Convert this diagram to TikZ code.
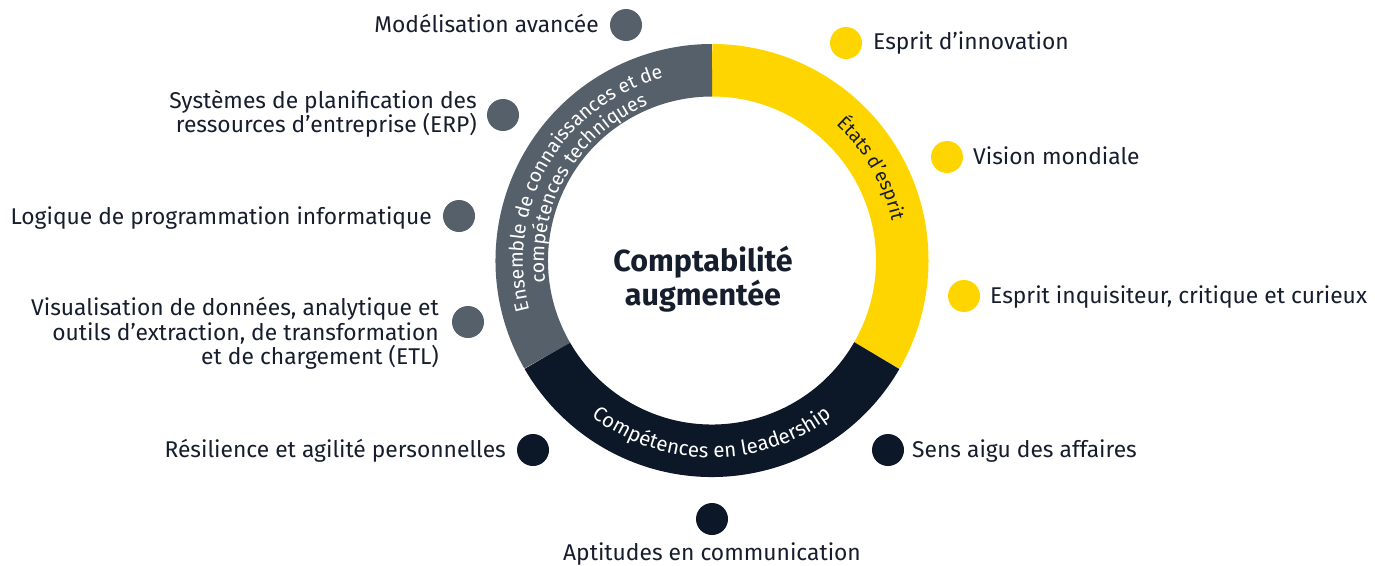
\documentclass[tikz,border=0pt]{standalone}
\usepackage{fontspec}
\setmainfont{Fira Sans}
\usetikzlibrary{decorations.text}
\definecolor{eyyellow}{HTML}{FFD500}
\definecolor{eygray}{HTML}{56606B}
\definecolor{eynavy}{HTML}{0C1727}
\definecolor{txt}{HTML}{161D2C}
\begin{document}
\begin{tikzpicture}[x=1pt,y=1pt,
  dot/.style={circle,fill=#1,minimum size=32pt,inner sep=0pt},
  lbl/.style={inner sep=0pt,text=txt,font=\fontsize{22.8}{24.5}\selectfont},
  seg/.style={line width=52.5pt,draw=#1}]
\useasboundingbox (0,0) rectangle (1375,-565);
\coordinate (C) at (712,-260.5);
% ring
\draw[seg=eyyellow] ([shift={(C)}]90:190.25) arc[start angle=90,end angle=-30,radius=190.25];
\draw[seg=eynavy] ([shift={(C)}]-30:190.25) arc[start angle=-30,end angle=-150,radius=190.25];
\draw[seg=eygray] ([shift={(C)}]210:190.25) arc[start angle=210,end angle=90,radius=190.25];
% ring texts
\path[decorate,decoration={text along path,text align=center,text color=white,
  text={|\fontsize{19.5}{19.5}\selectfont|Ensemble de connaissances et de}}]
  ([shift={(C)}]210:189) arc[start angle=210,end angle=90,radius=189];
\path[decorate,decoration={text along path,text align=center,text color=white,
  text={|\fontsize{19.5}{19.5}\selectfont|compétences techniques}}]
  ([shift={(C)}]210:168) arc[start angle=210,end angle=90,radius=168];
\path[decorate,decoration={text along path,text align=center,text color=txt,
  text={|\fontsize{19}{19}\selectfont|États d'esprit}}]
  ([shift={(C)}]90:184) arc[start angle=90,end angle=-30,radius=184];
\path[decorate,decoration={text along path,text align=center,text color=white,
  text={|\fontsize{20.5}{20.5}\selectfont|Compétences en leadership}}]
  ([shift={(C)}]210:197) arc[start angle=210,end angle=330,radius=197];
% centre
\node[inner sep=0pt,text=txt,font=\fontsize{30.5}{34}\selectfont\bfseries,align=center] (centre) at (703,-279) {Comptabilité\\augmentée};
% dots
\node[dot=eygray] (d1) at (626,-25) {};
\node[dot=eygray] (d2) at (503,-115) {};
\node[dot=eygray] (d3) at (459,-216) {};
\node[dot=eygray] (d4) at (468,-322) {};
\node[dot=eynavy] (d5) at (533,-450) {};
\node[dot=eynavy] (d6) at (712,-519) {};
\node[dot=eynavy] (d7) at (888,-450) {};
\node[dot=eyyellow] (d8) at (964,-296) {};
\node[dot=eyyellow] (d9) at (947,-157) {};
\node[dot=eyyellow] (d10) at (846,-43) {};
% labels
\node[lbl,anchor=base east] (l1) at (599,-32.5) {Modélisation avancée};
\node[lbl,anchor=east,align=right] (l2) at (477,-114) {Systèmes de planification des\\ressources d’entreprise (ERP)};
\node[lbl,anchor=base east] (l3) at (432,-224) {Logique de programmation informatique};
\node[lbl,anchor=east,align=right] (l4) at (439,-333.5) {Visualisation de données, analytique et\\outils d’extraction, de transformation\\et de chargement (ETL)};
\node[lbl,anchor=base east] (l5) at (506,-457.5) {Résilience et agilité personnelles};
\node[lbl,anchor=base] (l6) at (712,-560) {Aptitudes en communication};
\node[lbl,anchor=base west] (l7) at (912,-457.5) {Sens aigu des affaires};
\node[lbl,anchor=base west] (l8) at (990,-303.5) {Esprit inquisiteur, critique et curieux};
\node[lbl,anchor=base west] (l9) at (973,-164.5) {Vision mondiale};
\node[lbl,anchor=base west] (l10) at (873,-49.5) {Esprit d’innovation};
\end{tikzpicture}
\end{document}
